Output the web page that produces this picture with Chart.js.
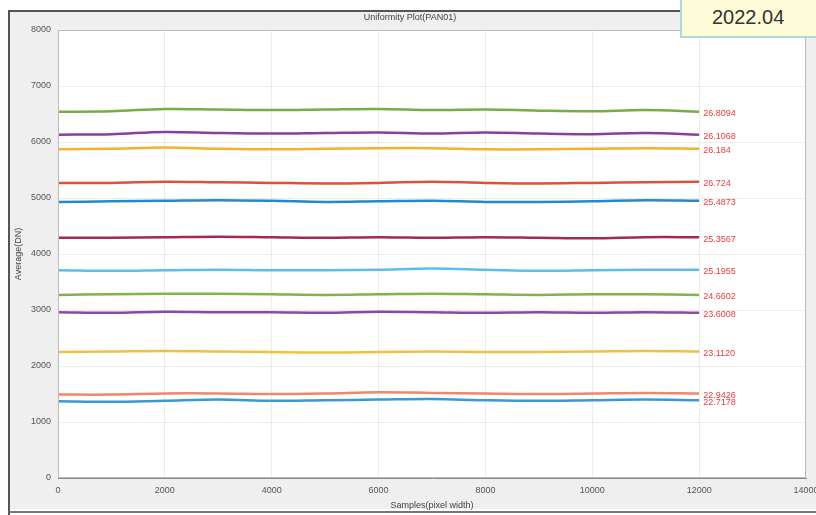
<!DOCTYPE html>
<html>
<head>
<meta charset="utf-8">
<script src="https://cdn.jsdelivr.net/npm/chart.js@4"></script>
<style>
  html, body { margin: 0; padding: 0; background: #fff; }
  #wrap { position: relative; width: 816px; height: 515px; }
  #tag {
    position: absolute; left: 680px; top: -2px; width: 140px; height: 40px;
    background: #fdfbd8; border: 2px solid #a8dcd8; box-sizing: border-box;
    font: 20px "Liberation Sans", Arial, sans-serif; color: #333;
    padding: 6px 0 0 30px;
  }
</style>
</head>
<body>
<div id="wrap">
  <canvas id="plot" width="816" height="515"></canvas>
  <div id="tag">2022.04</div>
</div>
<script>
// x positions of the samples
const samples = [0, 1000, 2000, 3000, 4000, 5000, 6000, 7000, 8000, 9000, 10000, 11000, 12000];

// average DN per line
const line01 = [6540, 6550, 6590, 6580, 6570, 6580, 6590, 6570, 6580, 6560, 6550, 6570, 6540];
const line02 = [6130, 6140, 6180, 6160, 6150, 6160, 6170, 6150, 6170, 6150, 6140, 6160, 6130];
const line03 = [5870, 5880, 5900, 5880, 5870, 5880, 5890, 5890, 5870, 5870, 5880, 5890, 5880];
const line04 = [5270, 5270, 5290, 5280, 5270, 5260, 5270, 5290, 5270, 5260, 5270, 5280, 5290];
const line05 = [4930, 4940, 4950, 4960, 4950, 4930, 4940, 4950, 4930, 4930, 4940, 4960, 4950];
const line06 = [4290, 4290, 4300, 4310, 4300, 4290, 4300, 4290, 4300, 4290, 4280, 4300, 4300];
const line07 = [3710, 3700, 3710, 3720, 3710, 3710, 3720, 3740, 3720, 3700, 3710, 3720, 3720];
const line08 = [3270, 3280, 3290, 3290, 3280, 3270, 3280, 3290, 3280, 3270, 3280, 3280, 3270];
const line09 = [2960, 2950, 2970, 2960, 2960, 2950, 2970, 2960, 2950, 2960, 2950, 2960, 2950];
const line10 = [2250, 2260, 2270, 2260, 2250, 2240, 2250, 2260, 2250, 2250, 2260, 2270, 2260];
const line11 = [1490, 1490, 1510, 1510, 1500, 1510, 1530, 1520, 1510, 1500, 1510, 1520, 1510];
const line12 = [1370, 1360, 1380, 1400, 1380, 1390, 1400, 1410, 1390, 1380, 1390, 1400, 1390];

const endLabels = ['26.8094', '26.1068', '26.184', '26.724', '25.4873', '25.3567',
                   '25.1955', '24.6602', '23.6008', '23.1120', '22.9426', '22.7178'];
const lineColors = ['#77ad45', '#8a3fa0', '#f0b62a', '#d9533a', '#2a86c6', '#a32a4c',
                    '#5dbdec', '#84b445', '#8e46a8', '#efc23e', '#f0866a', '#3b98d4'];

const xTicks = [0, 2000, 4000, 6000, 8000, 10000, 12000, 14000];
const yTicks = [0, 1000, 2000, 3000, 4000, 5000, 6000, 7000, 8000];

const allLines = [line01, line02, line03, line04, line05, line06,
                  line07, line08, line09, line10, line11, line12];

const datasets = allLines.map((vals, i) => ({
  data: vals.map((v, j) => ({ x: samples[j], y: v })),
  borderColor: lineColors[i],
  borderWidth: 2.5,
  pointRadius: 0,
  tension: 0.35,
  label: endLabels[i]
}));

// grey frame of the window around the axes
const framePlugin = {
  id: 'frame',
  beforeDraw(chart) {
    const { ctx, chartArea: a } = chart;
    ctx.save();
    ctx.fillStyle = '#ffffff';
    ctx.fillRect(0, 0, 816, 515);
    ctx.fillStyle = '#efefef';
    ctx.fillRect(9, 11, 816, 498);
    ctx.fillStyle = '#ffffff';
    ctx.fillRect(a.left, a.top, a.right - a.left, a.bottom - a.top);
    ctx.strokeStyle = '#555';
    ctx.lineWidth = 2;
    ctx.beginPath();
    ctx.moveTo(9, 515); ctx.lineTo(9, 11); ctx.lineTo(816, 11);
    ctx.stroke();
    ctx.strokeStyle = '#777';
    ctx.beginPath();
    ctx.moveTo(9, 512); ctx.lineTo(816, 512);
    ctx.stroke();
    ctx.fillStyle = '#444';
    ctx.font = '9px "Liberation Sans", Arial, sans-serif';
    ctx.textAlign = 'center';
    ctx.fillText('Uniformity Plot(PAN01)', 410, 20);
    ctx.restore();
  },
  afterDatasetsDraw(chart) {
    const { ctx, chartArea: a } = chart;
    ctx.save();
    ctx.strokeStyle = '#bbb';
    ctx.lineWidth = 1;
    ctx.strokeRect(a.left + 0.5, a.top + 0.5, a.right - a.left - 1, a.bottom - a.top - 1);
    ctx.fillStyle = '#ee3a3a';
    ctx.font = '9px "Liberation Sans", Arial, sans-serif';
    ctx.textAlign = 'left';
    ctx.textBaseline = 'middle';
    chart.data.datasets.forEach(ds => {
      const last = ds.data[ds.data.length - 1];
      const px = chart.scales.x.getPixelForValue(last.x);
      const py = chart.scales.y.getPixelForValue(last.y);
      ctx.fillText(ds.label, px + 4, py + 2);
    });
    ctx.restore();
  }
};

const tickFont = { size: 9, family: 'Liberation Sans' };

new Chart(document.getElementById('plot'), {
  type: 'line',
  data: { datasets },
  options: {
    responsive: false,
    animation: false,
    layout: { padding: { left: 13, top: 30, right: 10, bottom: 0 } },
    plugins: { legend: { display: false }, tooltip: { enabled: false } },
    scales: {
      x: {
        type: 'linear', min: 0, max: 14000,
        afterBuildTicks(s) { s.ticks = xTicks.map(v => ({ value: v })); },
        afterFit(s) { s.height = 37; s.paddingLeft = 0; s.paddingRight = 0; },
        grid: { color: '#ececec', tickLength: 4, drawTicks: true },
        border: { color: '#888' },
        ticks: { color: '#555', font: tickFont, padding: 3, maxRotation: 0,
                 callback: v => String(v) },
        title: { display: true, text: 'Samples(pixel width)', color: '#444',
                 font: tickFont, padding: { top: 0, bottom: 4 } }
      },
      y: {
        min: 0, max: 8000,
        afterBuildTicks(s) { s.ticks = yTicks.map(v => ({ value: v })); },
        afterFit(s) { s.width = 45; s.paddingTop = 0; s.paddingBottom = 0; },
        grid: { color: '#ececec', tickLength: 4 },
        border: { color: '#888' },
        ticks: { color: '#555', font: tickFont, padding: 3,
                 callback: v => String(v) },
        title: { display: true, text: 'Average(DN)', color: '#444',
                 font: tickFont, padding: { top: 0, bottom: 2 } }
      }
    }
  },
  plugins: [framePlugin]
});
</script>
</body>
</html>
